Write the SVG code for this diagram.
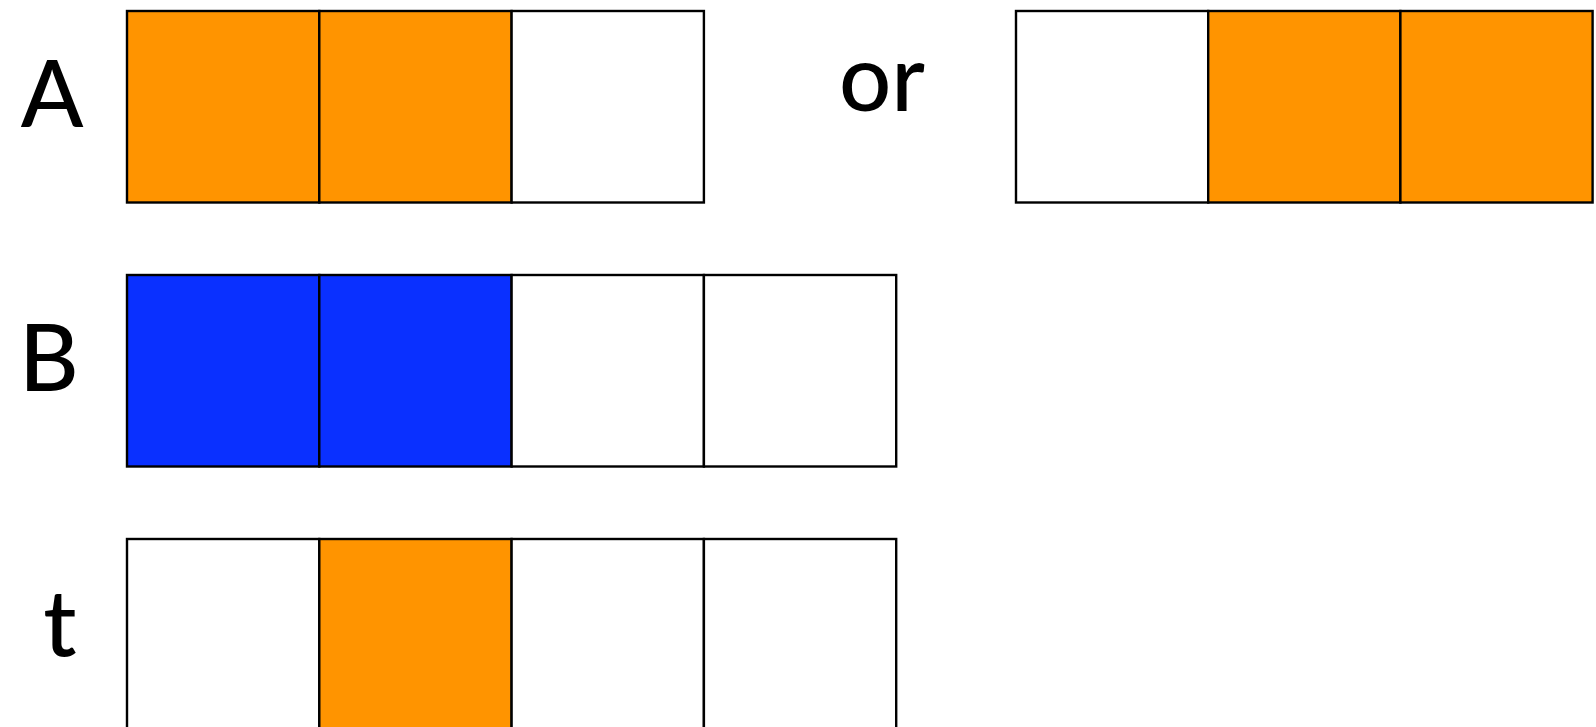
<svg xmlns="http://www.w3.org/2000/svg" width="1596" height="727" viewBox="0 0 1596 727">
<style>
.c{stroke:#000;stroke-width:2.4;}
.o{fill:#FF9400;}
.b{fill:#0A30FF;}
.w{fill:#fff;}
.l{font-family:"Lato","Noto Sans","Liberation Sans",sans-serif;font-size:92px;font-weight:500;fill:#000;text-anchor:middle;}
</style>
<rect width="1596" height="727" fill="#fff"/>
<g id="rowA">
<rect class="c o" x="127" y="11" width="192.3" height="191.5"/>
<rect class="c o" x="319.3" y="11" width="192.3" height="191.5"/>
<rect class="c w" x="511.6" y="11" width="192.3" height="191.5"/>
<text class="l" x="52" y="127">A</text>
</g>
<g id="or">
<text class="l" x="882" y="111">or</text>
</g>
<g id="rowA2">
<rect class="c w" x="1016" y="11" width="192.2" height="191.5"/>
<rect class="c o" x="1208.2" y="11" width="192.2" height="191.5"/>
<rect class="c o" x="1400.4" y="11" width="192.2" height="191.5"/>
</g>
<g id="rowB">
<rect class="c b" x="127" y="275" width="192.3" height="191.5"/>
<rect class="c b" x="319.3" y="275" width="192.3" height="191.5"/>
<rect class="c w" x="511.6" y="275" width="192.3" height="191.5"/>
<rect class="c w" x="703.9" y="275" width="192.3" height="191.5"/>
<text class="l" x="49" y="391">B</text>
</g>
<g id="rowT">
<rect class="c w" x="127" y="539" width="192.3" height="191.5"/>
<rect class="c o" x="319.3" y="539" width="192.3" height="191.5"/>
<rect class="c w" x="511.6" y="539" width="192.3" height="191.5"/>
<rect class="c w" x="703.9" y="539" width="192.3" height="191.5"/>
<text class="l" x="60" y="656">t</text>
</g>
<g id="connectors"/>
</svg>
